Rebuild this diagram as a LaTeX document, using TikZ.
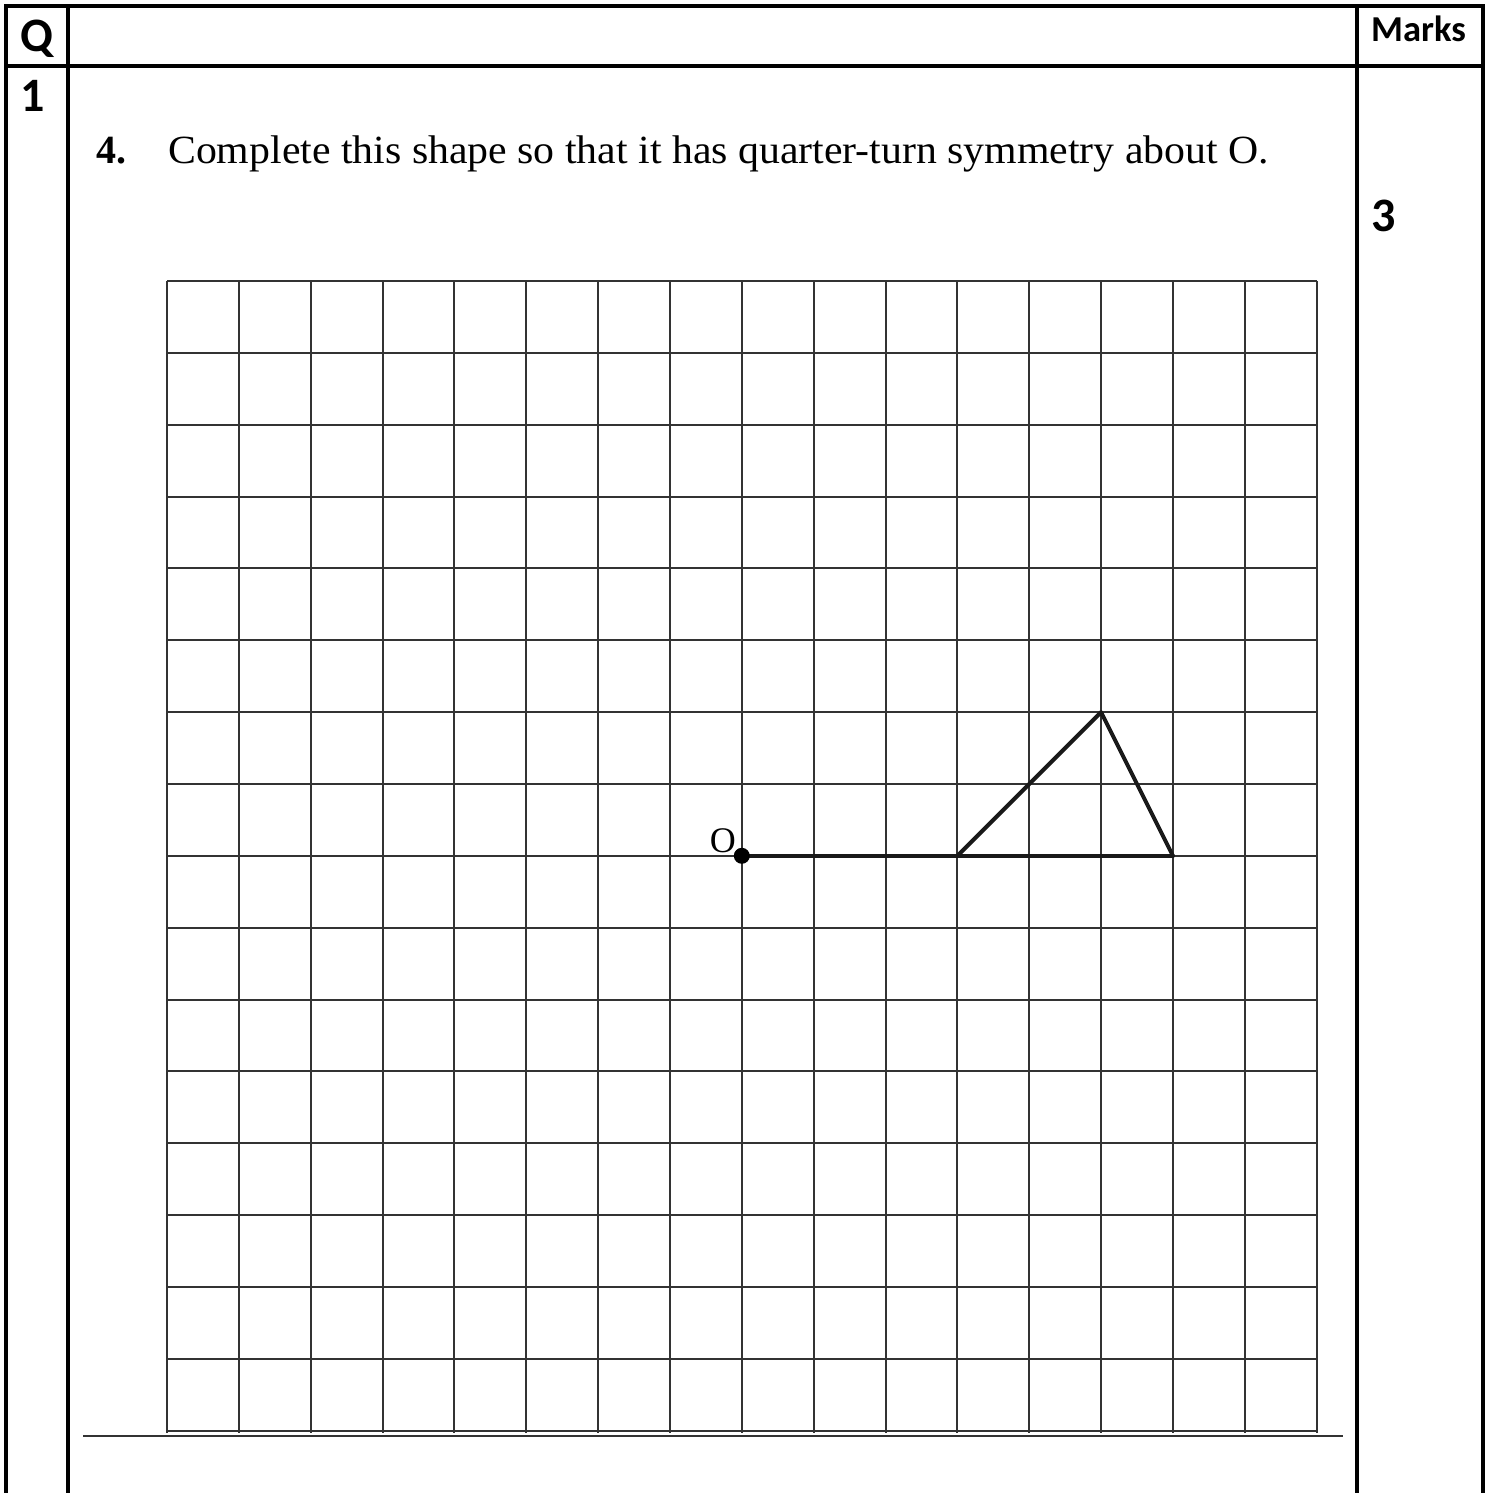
\documentclass[tikz,border=0pt]{standalone}
\usepackage{fontspec}
\setmainfont{Liberation Serif}
\newfontfamily\calib{Carlito}
\begin{document}
\begin{tikzpicture}[x=1pt,y=-1pt,
 tbl/.style={line width=3.2pt, black},
 gridline/.style={line width=2pt, black!80},
 figline/.style={line width=4pt, black!90, line join=round, line cap=round},
 hdr/.style={font=\calib\bfseries\fontsize{48}{54}\selectfont, inner sep=0pt, anchor=base west},
 qtxt/.style={font=\fontsize{40}{46}\selectfont, inner sep=0pt, anchor=base west},
 ]
\useasboundingbox (0,0) rectangle (1491,1493);
% table
\draw[tbl] (6,1493) -- (6,6) -- (1483,6) -- (1483,1493);
\draw[tbl] (68,6) -- (68,1493);
\draw[tbl] (1357,6) -- (1357,1493);
\draw[tbl] (6,66) -- (1483,66);
\node[hdr] (q) at (20,52) {Q};
\node[hdr] (n1) at (20,112) {1};
\node[hdr, font=\calib\bfseries\fontsize{36.5}{42}\selectfont] (marks) at (1371,42) {Marks};
\node[hdr] (mk) at (1371,231) {3};
% question
\node[qtxt] (num) at (96,163) {\textbf{4.}};
\node[qtxt, xscale=1.045] (qtext) at (168,163) {Complete this shape so that it has quarter-turn symmetry about O.};
% grid
\foreach \i in {0,...,16} {
  \draw[gridline] ({167+71.85*\i},281) -- ({167+71.85*\i},1432.6);
  \draw[gridline] (167,{281+71.85*\i}) -- (1316.6,{281+71.85*\i});
}
\draw[line width=2.6pt, black!80] (83,1436) -- (1343,1436);
% figure
\coordinate (O) at (741.8,855.8);
\coordinate (A) at (957.35,855.8);
\coordinate (B) at (1101.05,712.1);
\coordinate (C) at (1172.9,855.8);
\draw[figline] (O) -- (C);
\draw[figline] (A) -- (B) -- (C);
\fill[black] (O) circle (8pt);
\node[font=\fontsize{36}{42}\selectfont, anchor=base east, inner sep=0pt] (olab) at (736,852) {O};
\end{tikzpicture}
\end{document}
